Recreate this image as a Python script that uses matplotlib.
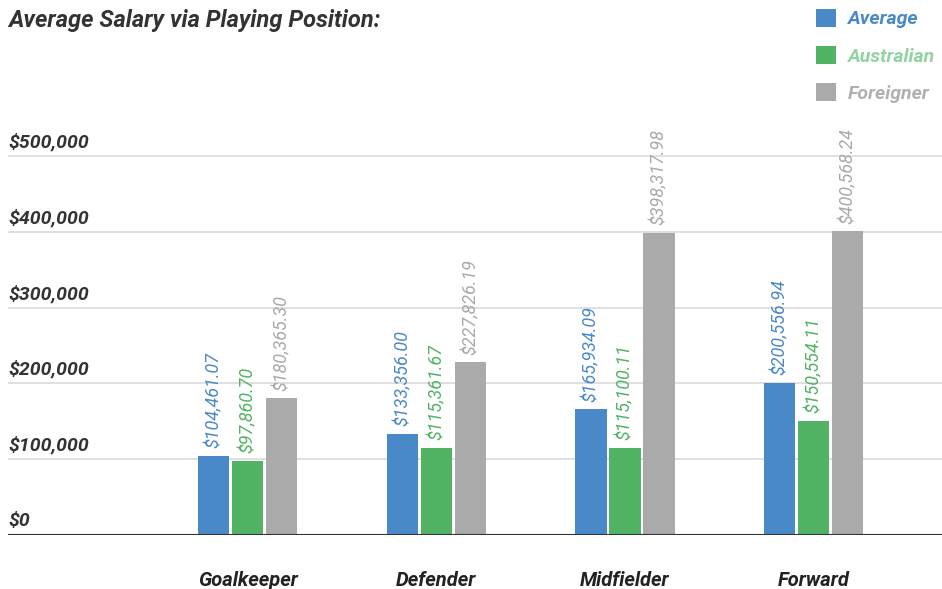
import numpy as np
import matplotlib.pyplot as plt

plt.rcParams['font.family'] = ['Roboto', 'DejaVu Sans']

posicoes = ['Goalkeeper', 'Defender', 'Midfielder', 'Forward']
series = ['Average', 'Australian', 'Foreigner']
media = [104461.07, 133356.00, 165934.09, 200556.94]
australiano = [97860.70, 115361.67, 115100.11, 150554.11]
estrangeiro = [180365.30, 227826.19, 398317.98, 400568.24]
yticks = [0, 100000, 200000, 300000, 400000, 500000]

cores = ['#4a89c8', '#52b365', '#aaaaaa']
cores_legenda = ['#4a89c8', '#93d3a2', '#b0b0b0']

fig = plt.figure(figsize=(9.42, 5.89), dpi=100)
# eixo: y=535px e' o zero, 75.8px por 100k
ax = fig.add_axes([8 / 942, 54 / 589, 934 / 942, 435 / 589])

x = np.arange(len(posicoes))
largura = 0.165
passo = 0.18
valores = [media, australiano, estrangeiro]
for i, (vals, cor, nome) in enumerate(zip(valores, cores, series)):
    xs = x + (i - 1) * passo
    ax.bar(xs, vals, width=largura, color=cor, label=nome, zorder=3)
    for xi, v in zip(xs, vals):
        ax.text(xi, v + 10000, f'${v:,.2f}', rotation=90, ha='center', va='bottom',
                color=cor, fontsize=13, style='italic', clip_on=False, zorder=4)

ax.set_ylim(0, 435 / 75.8 * 100000)
ax.set_xlim(-1.27, 3.68)

for v in yticks:
    if v == 0:
        ax.axhline(0, color='#333333', lw=1.5, zorder=5)
    else:
        ax.axhline(v, color='#dddddd', lw=1.3, zorder=1)
    ax.text(0, v + 6000, f'${v:,.0f}', transform=ax.get_yaxis_transform(),
            ha='left', va='bottom', fontsize=14, fontweight='bold',
            style='italic', color='#333333')

ax.set_yticks([])
ax.set_xticks(x)
ax.set_xticklabels(posicoes, fontsize=14.5, fontweight='bold', style='italic', color='#222222')
ax.tick_params(axis='x', length=0, pad=26)
for s in ax.spines.values():
    s.set_visible(False)

fig.text(8 / 942, 1 - 21 / 589, 'Average Salary via Playing Position:', ha='left', va='center',
         fontsize=17, fontweight='bold', style='italic', color='#333333')

leg = ax.legend(loc='upper right', bbox_to_anchor=(1.002, 1.0), bbox_transform=fig.transFigure,
                frameon=False, handlelength=1.05, handleheight=1.05, labelspacing=0.9,
                handletextpad=0.6, borderaxespad=0.05,
                prop={'size': 14, 'weight': 'bold', 'style': 'italic'})
for t, c in zip(leg.get_texts(), cores_legenda):
    t.set_color(c)

plt.savefig('out.png', dpi=100)
